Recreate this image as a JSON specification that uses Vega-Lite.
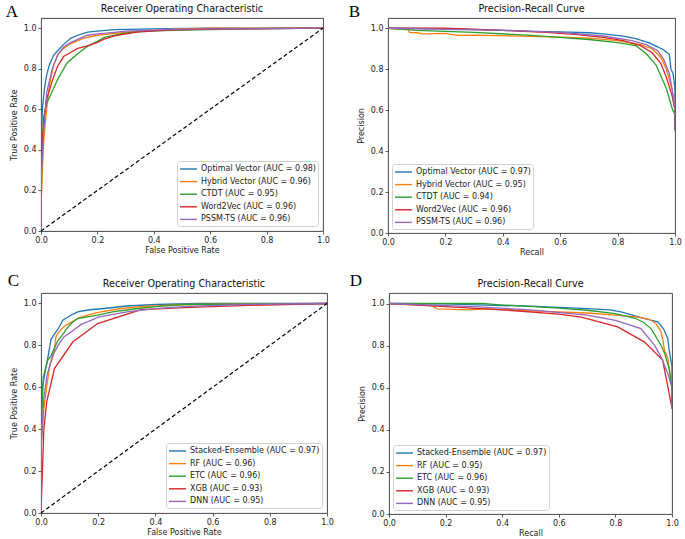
{
  "$schema": "https://vega.github.io/schema/vega-lite/v6.json",
  "padding": {"left": 5, "top": 2, "right": 2, "bottom": 2},
  "background": "white",
  "spacing": 14,
  "config": {
    "font": "DejaVu Sans",
    "view": {"stroke": "#333333", "strokeWidth": 0.9},
    "axis": {"grid": false, "domain": false, "tickColor": "#333333", "tickSize": 3, "tickWidth": 0.8, "labelPadding": 2, "labelFontSize": 8, "labelColor": "#222222", "labelFont": "DejaVu Sans", "titleFont": "DejaVu Sans", "titleFontSize": 8, "titleFontWeight": "normal", "titleColor": "#222222", "labelFlush": false, "format": ".1f"},
    "axisX": {"titlePadding": 2},
    "axisY": {"titlePadding": 5},
    "title": {"font": "DejaVu Sans", "fontSize": 9.6, "fontWeight": "normal", "color": "#111111", "offset": 4},
    "legend": {"padding": 2, "strokeColor": "#d0d0d0", "cornerRadius": 3, "fillColor": "rgba(255,255,255,0.8)", "symbolType": "M-1,0H2.4", "symbolSize": 100, "symbolStrokeWidth": 1.4, "labelFontSize": 8, "labelFont": "DejaVu Sans", "labelColor": "#222222", "rowPadding": 2.6, "labelOffset": 10, "labelLimit": 400, "offset": 5}
  },
  "datasets": {
    "diag": [{"x": 0, "y": 0}, {"x": 1, "y": 1}],
    "curves": [
      {"p":"A","m":"Optimal Vector (AUC = 0.98)","x":0,"y":0},
      {"p":"A","m":"Optimal Vector (AUC = 0.98)","x":0,"y":0.45},
      {"p":"A","m":"Optimal Vector (AUC = 0.98)","x":0.005,"y":0.6},
      {"p":"A","m":"Optimal Vector (AUC = 0.98)","x":0.012,"y":0.7},
      {"p":"A","m":"Optimal Vector (AUC = 0.98)","x":0.02,"y":0.77},
      {"p":"A","m":"Optimal Vector (AUC = 0.98)","x":0.03,"y":0.82},
      {"p":"A","m":"Optimal Vector (AUC = 0.98)","x":0.046,"y":0.87},
      {"p":"A","m":"Optimal Vector (AUC = 0.98)","x":0.06,"y":0.89},
      {"p":"A","m":"Optimal Vector (AUC = 0.98)","x":0.08,"y":0.92},
      {"p":"A","m":"Optimal Vector (AUC = 0.98)","x":0.105,"y":0.95},
      {"p":"A","m":"Optimal Vector (AUC = 0.98)","x":0.13,"y":0.965},
      {"p":"A","m":"Optimal Vector (AUC = 0.98)","x":0.165,"y":0.98},
      {"p":"A","m":"Optimal Vector (AUC = 0.98)","x":0.2,"y":0.985},
      {"p":"A","m":"Optimal Vector (AUC = 0.98)","x":0.26,"y":0.993},
      {"p":"A","m":"Optimal Vector (AUC = 0.98)","x":0.35,"y":0.995},
      {"p":"A","m":"Optimal Vector (AUC = 0.98)","x":0.45,"y":0.997},
      {"p":"A","m":"Optimal Vector (AUC = 0.98)","x":0.6,"y":1},
      {"p":"A","m":"Optimal Vector (AUC = 0.98)","x":1,"y":1},
      {"p":"A","m":"Hybrid Vector (AUC = 0.96)","x":0,"y":0},
      {"p":"A","m":"Hybrid Vector (AUC = 0.96)","x":0,"y":0.12},
      {"p":"A","m":"Hybrid Vector (AUC = 0.96)","x":0.005,"y":0.3},
      {"p":"A","m":"Hybrid Vector (AUC = 0.96)","x":0.01,"y":0.45},
      {"p":"A","m":"Hybrid Vector (AUC = 0.96)","x":0.02,"y":0.6},
      {"p":"A","m":"Hybrid Vector (AUC = 0.96)","x":0.03,"y":0.72},
      {"p":"A","m":"Hybrid Vector (AUC = 0.96)","x":0.045,"y":0.82},
      {"p":"A","m":"Hybrid Vector (AUC = 0.96)","x":0.06,"y":0.87},
      {"p":"A","m":"Hybrid Vector (AUC = 0.96)","x":0.08,"y":0.9},
      {"p":"A","m":"Hybrid Vector (AUC = 0.96)","x":0.1,"y":0.92},
      {"p":"A","m":"Hybrid Vector (AUC = 0.96)","x":0.15,"y":0.95},
      {"p":"A","m":"Hybrid Vector (AUC = 0.96)","x":0.2,"y":0.965},
      {"p":"A","m":"Hybrid Vector (AUC = 0.96)","x":0.3,"y":0.98},
      {"p":"A","m":"Hybrid Vector (AUC = 0.96)","x":0.4,"y":0.99},
      {"p":"A","m":"Hybrid Vector (AUC = 0.96)","x":0.52,"y":0.997},
      {"p":"A","m":"Hybrid Vector (AUC = 0.96)","x":0.6,"y":1},
      {"p":"A","m":"Hybrid Vector (AUC = 0.96)","x":1,"y":1},
      {"p":"A","m":"CTDT (AUC = 0.95)","x":0,"y":0},
      {"p":"A","m":"CTDT (AUC = 0.95)","x":0.002,"y":0.3},
      {"p":"A","m":"CTDT (AUC = 0.95)","x":0.008,"y":0.55},
      {"p":"A","m":"CTDT (AUC = 0.95)","x":0.02,"y":0.63},
      {"p":"A","m":"CTDT (AUC = 0.95)","x":0.034,"y":0.67},
      {"p":"A","m":"CTDT (AUC = 0.95)","x":0.06,"y":0.75},
      {"p":"A","m":"CTDT (AUC = 0.95)","x":0.093,"y":0.83},
      {"p":"A","m":"CTDT (AUC = 0.95)","x":0.14,"y":0.885},
      {"p":"A","m":"CTDT (AUC = 0.95)","x":0.165,"y":0.91},
      {"p":"A","m":"CTDT (AUC = 0.95)","x":0.2,"y":0.935},
      {"p":"A","m":"CTDT (AUC = 0.95)","x":0.224,"y":0.954},
      {"p":"A","m":"CTDT (AUC = 0.95)","x":0.295,"y":0.975},
      {"p":"A","m":"CTDT (AUC = 0.95)","x":0.37,"y":0.985},
      {"p":"A","m":"CTDT (AUC = 0.95)","x":0.5,"y":0.99},
      {"p":"A","m":"CTDT (AUC = 0.95)","x":0.7,"y":0.995},
      {"p":"A","m":"CTDT (AUC = 0.95)","x":1,"y":1},
      {"p":"A","m":"Word2Vec (AUC = 0.96)","x":0,"y":0},
      {"p":"A","m":"Word2Vec (AUC = 0.96)","x":0,"y":0.35},
      {"p":"A","m":"Word2Vec (AUC = 0.96)","x":0.01,"y":0.55},
      {"p":"A","m":"Word2Vec (AUC = 0.96)","x":0.02,"y":0.65},
      {"p":"A","m":"Word2Vec (AUC = 0.96)","x":0.04,"y":0.74},
      {"p":"A","m":"Word2Vec (AUC = 0.96)","x":0.058,"y":0.81},
      {"p":"A","m":"Word2Vec (AUC = 0.96)","x":0.08,"y":0.86},
      {"p":"A","m":"Word2Vec (AUC = 0.96)","x":0.105,"y":0.88},
      {"p":"A","m":"Word2Vec (AUC = 0.96)","x":0.13,"y":0.9},
      {"p":"A","m":"Word2Vec (AUC = 0.96)","x":0.165,"y":0.913},
      {"p":"A","m":"Word2Vec (AUC = 0.96)","x":0.2,"y":0.93},
      {"p":"A","m":"Word2Vec (AUC = 0.96)","x":0.224,"y":0.946},
      {"p":"A","m":"Word2Vec (AUC = 0.96)","x":0.27,"y":0.965},
      {"p":"A","m":"Word2Vec (AUC = 0.96)","x":0.34,"y":0.98},
      {"p":"A","m":"Word2Vec (AUC = 0.96)","x":0.45,"y":0.99},
      {"p":"A","m":"Word2Vec (AUC = 0.96)","x":0.6,"y":0.995},
      {"p":"A","m":"Word2Vec (AUC = 0.96)","x":1,"y":1},
      {"p":"A","m":"PSSM-TS (AUC = 0.96)","x":0,"y":0},
      {"p":"A","m":"PSSM-TS (AUC = 0.96)","x":0,"y":0.25},
      {"p":"A","m":"PSSM-TS (AUC = 0.96)","x":0.01,"y":0.5},
      {"p":"A","m":"PSSM-TS (AUC = 0.96)","x":0.02,"y":0.68},
      {"p":"A","m":"PSSM-TS (AUC = 0.96)","x":0.04,"y":0.8},
      {"p":"A","m":"PSSM-TS (AUC = 0.96)","x":0.06,"y":0.87},
      {"p":"A","m":"PSSM-TS (AUC = 0.96)","x":0.082,"y":0.91},
      {"p":"A","m":"PSSM-TS (AUC = 0.96)","x":0.1,"y":0.925},
      {"p":"A","m":"PSSM-TS (AUC = 0.96)","x":0.13,"y":0.945},
      {"p":"A","m":"PSSM-TS (AUC = 0.96)","x":0.165,"y":0.965},
      {"p":"A","m":"PSSM-TS (AUC = 0.96)","x":0.2,"y":0.972},
      {"p":"A","m":"PSSM-TS (AUC = 0.96)","x":0.25,"y":0.978},
      {"p":"A","m":"PSSM-TS (AUC = 0.96)","x":0.3,"y":0.985},
      {"p":"A","m":"PSSM-TS (AUC = 0.96)","x":0.4,"y":0.99},
      {"p":"A","m":"PSSM-TS (AUC = 0.96)","x":0.5,"y":0.995},
      {"p":"A","m":"PSSM-TS (AUC = 0.96)","x":1,"y":1},

      {"p":"B","m":"Optimal Vector (AUC = 0.97)","x":0,"y":1},
      {"p":"B","m":"Optimal Vector (AUC = 0.97)","x":0.2,"y":0.998},
      {"p":"B","m":"Optimal Vector (AUC = 0.97)","x":0.4,"y":0.99},
      {"p":"B","m":"Optimal Vector (AUC = 0.97)","x":0.5,"y":0.985},
      {"p":"B","m":"Optimal Vector (AUC = 0.97)","x":0.6,"y":0.982},
      {"p":"B","m":"Optimal Vector (AUC = 0.97)","x":0.7,"y":0.978},
      {"p":"B","m":"Optimal Vector (AUC = 0.97)","x":0.75,"y":0.972},
      {"p":"B","m":"Optimal Vector (AUC = 0.97)","x":0.818,"y":0.962},
      {"p":"B","m":"Optimal Vector (AUC = 0.97)","x":0.86,"y":0.95},
      {"p":"B","m":"Optimal Vector (AUC = 0.97)","x":0.888,"y":0.938},
      {"p":"B","m":"Optimal Vector (AUC = 0.97)","x":0.91,"y":0.928},
      {"p":"B","m":"Optimal Vector (AUC = 0.97)","x":0.934,"y":0.913},
      {"p":"B","m":"Optimal Vector (AUC = 0.97)","x":0.96,"y":0.895},
      {"p":"B","m":"Optimal Vector (AUC = 0.97)","x":0.98,"y":0.873},
      {"p":"B","m":"Optimal Vector (AUC = 0.97)","x":0.986,"y":0.8},
      {"p":"B","m":"Optimal Vector (AUC = 0.97)","x":0.993,"y":0.78},
      {"p":"B","m":"Optimal Vector (AUC = 0.97)","x":0.998,"y":0.726},
      {"p":"B","m":"Optimal Vector (AUC = 0.97)","x":1,"y":0.7},
      {"p":"B","m":"Optimal Vector (AUC = 0.97)","x":1,"y":0.5},
      {"p":"B","m":"Hybrid Vector (AUC = 0.95)","x":0,"y":1},
      {"p":"B","m":"Hybrid Vector (AUC = 0.95)","x":0.07,"y":0.995},
      {"p":"B","m":"Hybrid Vector (AUC = 0.95)","x":0.075,"y":0.98},
      {"p":"B","m":"Hybrid Vector (AUC = 0.95)","x":0.1,"y":0.978},
      {"p":"B","m":"Hybrid Vector (AUC = 0.95)","x":0.12,"y":0.972},
      {"p":"B","m":"Hybrid Vector (AUC = 0.95)","x":0.2,"y":0.975},
      {"p":"B","m":"Hybrid Vector (AUC = 0.95)","x":0.24,"y":0.965},
      {"p":"B","m":"Hybrid Vector (AUC = 0.95)","x":0.3,"y":0.966},
      {"p":"B","m":"Hybrid Vector (AUC = 0.95)","x":0.5,"y":0.96},
      {"p":"B","m":"Hybrid Vector (AUC = 0.95)","x":0.6,"y":0.957},
      {"p":"B","m":"Hybrid Vector (AUC = 0.95)","x":0.7,"y":0.952},
      {"p":"B","m":"Hybrid Vector (AUC = 0.95)","x":0.8,"y":0.94},
      {"p":"B","m":"Hybrid Vector (AUC = 0.95)","x":0.88,"y":0.92},
      {"p":"B","m":"Hybrid Vector (AUC = 0.95)","x":0.92,"y":0.9},
      {"p":"B","m":"Hybrid Vector (AUC = 0.95)","x":0.95,"y":0.86},
      {"p":"B","m":"Hybrid Vector (AUC = 0.95)","x":0.97,"y":0.8},
      {"p":"B","m":"Hybrid Vector (AUC = 0.95)","x":0.99,"y":0.7},
      {"p":"B","m":"Hybrid Vector (AUC = 0.95)","x":1,"y":0.6},
      {"p":"B","m":"Hybrid Vector (AUC = 0.95)","x":1,"y":0.5},
      {"p":"B","m":"CTDT (AUC = 0.94)","x":0,"y":1},
      {"p":"B","m":"CTDT (AUC = 0.94)","x":0.1,"y":0.99},
      {"p":"B","m":"CTDT (AUC = 0.94)","x":0.3,"y":0.98},
      {"p":"B","m":"CTDT (AUC = 0.94)","x":0.5,"y":0.965},
      {"p":"B","m":"CTDT (AUC = 0.94)","x":0.586,"y":0.957},
      {"p":"B","m":"CTDT (AUC = 0.94)","x":0.7,"y":0.945},
      {"p":"B","m":"CTDT (AUC = 0.94)","x":0.8,"y":0.93},
      {"p":"B","m":"CTDT (AUC = 0.94)","x":0.864,"y":0.915},
      {"p":"B","m":"CTDT (AUC = 0.94)","x":0.9,"y":0.875},
      {"p":"B","m":"CTDT (AUC = 0.94)","x":0.934,"y":0.82},
      {"p":"B","m":"CTDT (AUC = 0.94)","x":0.969,"y":0.71},
      {"p":"B","m":"CTDT (AUC = 0.94)","x":0.992,"y":0.6},
      {"p":"B","m":"CTDT (AUC = 0.94)","x":1,"y":0.58},
      {"p":"B","m":"CTDT (AUC = 0.94)","x":1,"y":0.5},
      {"p":"B","m":"Word2Vec (AUC = 0.96)","x":0,"y":1},
      {"p":"B","m":"Word2Vec (AUC = 0.96)","x":0.2,"y":1},
      {"p":"B","m":"Word2Vec (AUC = 0.96)","x":0.27,"y":0.997},
      {"p":"B","m":"Word2Vec (AUC = 0.96)","x":0.4,"y":0.99},
      {"p":"B","m":"Word2Vec (AUC = 0.96)","x":0.55,"y":0.98},
      {"p":"B","m":"Word2Vec (AUC = 0.96)","x":0.65,"y":0.97},
      {"p":"B","m":"Word2Vec (AUC = 0.96)","x":0.75,"y":0.955},
      {"p":"B","m":"Word2Vec (AUC = 0.96)","x":0.82,"y":0.94},
      {"p":"B","m":"Word2Vec (AUC = 0.96)","x":0.88,"y":0.915},
      {"p":"B","m":"Word2Vec (AUC = 0.96)","x":0.92,"y":0.88},
      {"p":"B","m":"Word2Vec (AUC = 0.96)","x":0.95,"y":0.83},
      {"p":"B","m":"Word2Vec (AUC = 0.96)","x":0.97,"y":0.76},
      {"p":"B","m":"Word2Vec (AUC = 0.96)","x":0.99,"y":0.67},
      {"p":"B","m":"Word2Vec (AUC = 0.96)","x":1,"y":0.6},
      {"p":"B","m":"Word2Vec (AUC = 0.96)","x":1,"y":0.5},
      {"p":"B","m":"PSSM-TS (AUC = 0.96)","x":0,"y":1},
      {"p":"B","m":"PSSM-TS (AUC = 0.96)","x":0.4,"y":0.99},
      {"p":"B","m":"PSSM-TS (AUC = 0.96)","x":0.6,"y":0.98},
      {"p":"B","m":"PSSM-TS (AUC = 0.96)","x":0.75,"y":0.962},
      {"p":"B","m":"PSSM-TS (AUC = 0.96)","x":0.85,"y":0.94},
      {"p":"B","m":"PSSM-TS (AUC = 0.96)","x":0.9,"y":0.92},
      {"p":"B","m":"PSSM-TS (AUC = 0.96)","x":0.94,"y":0.89},
      {"p":"B","m":"PSSM-TS (AUC = 0.96)","x":0.96,"y":0.85},
      {"p":"B","m":"PSSM-TS (AUC = 0.96)","x":0.98,"y":0.78},
      {"p":"B","m":"PSSM-TS (AUC = 0.96)","x":0.99,"y":0.7},
      {"p":"B","m":"PSSM-TS (AUC = 0.96)","x":1,"y":0.6},
      {"p":"B","m":"PSSM-TS (AUC = 0.96)","x":1,"y":0.5},

      {"p":"C","m":"Stacked-Ensemble (AUC = 0.97)","x":0,"y":0},
      {"p":"C","m":"Stacked-Ensemble (AUC = 0.97)","x":0,"y":0.45},
      {"p":"C","m":"Stacked-Ensemble (AUC = 0.97)","x":0.005,"y":0.6},
      {"p":"C","m":"Stacked-Ensemble (AUC = 0.97)","x":0.015,"y":0.68},
      {"p":"C","m":"Stacked-Ensemble (AUC = 0.97)","x":0.025,"y":0.75},
      {"p":"C","m":"Stacked-Ensemble (AUC = 0.97)","x":0.035,"y":0.83},
      {"p":"C","m":"Stacked-Ensemble (AUC = 0.97)","x":0.05,"y":0.86},
      {"p":"C","m":"Stacked-Ensemble (AUC = 0.97)","x":0.065,"y":0.89},
      {"p":"C","m":"Stacked-Ensemble (AUC = 0.97)","x":0.076,"y":0.92},
      {"p":"C","m":"Stacked-Ensemble (AUC = 0.97)","x":0.1,"y":0.94},
      {"p":"C","m":"Stacked-Ensemble (AUC = 0.97)","x":0.128,"y":0.96},
      {"p":"C","m":"Stacked-Ensemble (AUC = 0.97)","x":0.17,"y":0.97},
      {"p":"C","m":"Stacked-Ensemble (AUC = 0.97)","x":0.22,"y":0.976},
      {"p":"C","m":"Stacked-Ensemble (AUC = 0.97)","x":0.3,"y":0.988},
      {"p":"C","m":"Stacked-Ensemble (AUC = 0.97)","x":0.4,"y":0.995},
      {"p":"C","m":"Stacked-Ensemble (AUC = 0.97)","x":0.55,"y":1},
      {"p":"C","m":"Stacked-Ensemble (AUC = 0.97)","x":1,"y":1},
      {"p":"C","m":"RF (AUC = 0.96)","x":0,"y":0},
      {"p":"C","m":"RF (AUC = 0.96)","x":0,"y":0.3},
      {"p":"C","m":"RF (AUC = 0.96)","x":0.01,"y":0.5},
      {"p":"C","m":"RF (AUC = 0.96)","x":0.02,"y":0.6},
      {"p":"C","m":"RF (AUC = 0.96)","x":0.03,"y":0.7},
      {"p":"C","m":"RF (AUC = 0.96)","x":0.045,"y":0.76},
      {"p":"C","m":"RF (AUC = 0.96)","x":0.052,"y":0.84},
      {"p":"C","m":"RF (AUC = 0.96)","x":0.06,"y":0.86},
      {"p":"C","m":"RF (AUC = 0.96)","x":0.08,"y":0.89},
      {"p":"C","m":"RF (AUC = 0.96)","x":0.1,"y":0.905},
      {"p":"C","m":"RF (AUC = 0.96)","x":0.13,"y":0.93},
      {"p":"C","m":"RF (AUC = 0.96)","x":0.163,"y":0.944},
      {"p":"C","m":"RF (AUC = 0.96)","x":0.2,"y":0.958},
      {"p":"C","m":"RF (AUC = 0.96)","x":0.28,"y":0.976},
      {"p":"C","m":"RF (AUC = 0.96)","x":0.35,"y":0.985},
      {"p":"C","m":"RF (AUC = 0.96)","x":0.5,"y":0.995},
      {"p":"C","m":"RF (AUC = 0.96)","x":1,"y":1},
      {"p":"C","m":"ETC (AUC = 0.96)","x":0,"y":0},
      {"p":"C","m":"ETC (AUC = 0.96)","x":0,"y":0.35},
      {"p":"C","m":"ETC (AUC = 0.96)","x":0.008,"y":0.65},
      {"p":"C","m":"ETC (AUC = 0.96)","x":0.0235,"y":0.729},
      {"p":"C","m":"ETC (AUC = 0.96)","x":0.035,"y":0.75},
      {"p":"C","m":"ETC (AUC = 0.96)","x":0.058,"y":0.82},
      {"p":"C","m":"ETC (AUC = 0.96)","x":0.075,"y":0.85},
      {"p":"C","m":"ETC (AUC = 0.96)","x":0.09,"y":0.88},
      {"p":"C","m":"ETC (AUC = 0.96)","x":0.11,"y":0.91},
      {"p":"C","m":"ETC (AUC = 0.96)","x":0.128,"y":0.928},
      {"p":"C","m":"ETC (AUC = 0.96)","x":0.198,"y":0.944},
      {"p":"C","m":"ETC (AUC = 0.96)","x":0.25,"y":0.96},
      {"p":"C","m":"ETC (AUC = 0.96)","x":0.338,"y":0.976},
      {"p":"C","m":"ETC (AUC = 0.96)","x":0.4,"y":0.985},
      {"p":"C","m":"ETC (AUC = 0.96)","x":0.5,"y":0.995},
      {"p":"C","m":"ETC (AUC = 0.96)","x":1,"y":1},
      {"p":"C","m":"XGB (AUC = 0.93)","x":0,"y":0},
      {"p":"C","m":"XGB (AUC = 0.93)","x":0.01,"y":0.4},
      {"p":"C","m":"XGB (AUC = 0.93)","x":0.02,"y":0.53},
      {"p":"C","m":"XGB (AUC = 0.93)","x":0.047,"y":0.689},
      {"p":"C","m":"XGB (AUC = 0.93)","x":0.111,"y":0.816},
      {"p":"C","m":"XGB (AUC = 0.93)","x":0.198,"y":0.904},
      {"p":"C","m":"XGB (AUC = 0.93)","x":0.35,"y":0.971},
      {"p":"C","m":"XGB (AUC = 0.93)","x":0.5,"y":0.98},
      {"p":"C","m":"XGB (AUC = 0.93)","x":0.7,"y":0.99},
      {"p":"C","m":"XGB (AUC = 0.93)","x":1,"y":1},
      {"p":"C","m":"DNN (AUC = 0.95)","x":0,"y":0},
      {"p":"C","m":"DNN (AUC = 0.95)","x":0,"y":0.3},
      {"p":"C","m":"DNN (AUC = 0.95)","x":0.01,"y":0.55},
      {"p":"C","m":"DNN (AUC = 0.95)","x":0.02,"y":0.65},
      {"p":"C","m":"DNN (AUC = 0.95)","x":0.04,"y":0.75},
      {"p":"C","m":"DNN (AUC = 0.95)","x":0.06,"y":0.8},
      {"p":"C","m":"DNN (AUC = 0.95)","x":0.08,"y":0.84},
      {"p":"C","m":"DNN (AUC = 0.95)","x":0.105,"y":0.864},
      {"p":"C","m":"DNN (AUC = 0.95)","x":0.14,"y":0.9},
      {"p":"C","m":"DNN (AUC = 0.95)","x":0.163,"y":0.912},
      {"p":"C","m":"DNN (AUC = 0.95)","x":0.2,"y":0.935},
      {"p":"C","m":"DNN (AUC = 0.95)","x":0.3,"y":0.96},
      {"p":"C","m":"DNN (AUC = 0.95)","x":0.4,"y":0.975},
      {"p":"C","m":"DNN (AUC = 0.95)","x":0.5,"y":0.985},
      {"p":"C","m":"DNN (AUC = 0.95)","x":0.7,"y":0.995},
      {"p":"C","m":"DNN (AUC = 0.95)","x":1,"y":1},

      {"p":"D","m":"Stacked-Ensemble (AUC = 0.97)","x":0,"y":1},
      {"p":"D","m":"Stacked-Ensemble (AUC = 0.97)","x":0.2,"y":0.998},
      {"p":"D","m":"Stacked-Ensemble (AUC = 0.97)","x":0.4,"y":0.99},
      {"p":"D","m":"Stacked-Ensemble (AUC = 0.97)","x":0.5,"y":0.988},
      {"p":"D","m":"Stacked-Ensemble (AUC = 0.97)","x":0.6,"y":0.982},
      {"p":"D","m":"Stacked-Ensemble (AUC = 0.97)","x":0.7,"y":0.976},
      {"p":"D","m":"Stacked-Ensemble (AUC = 0.97)","x":0.78,"y":0.97},
      {"p":"D","m":"Stacked-Ensemble (AUC = 0.97)","x":0.82,"y":0.96},
      {"p":"D","m":"Stacked-Ensemble (AUC = 0.97)","x":0.86,"y":0.945},
      {"p":"D","m":"Stacked-Ensemble (AUC = 0.97)","x":0.9,"y":0.93},
      {"p":"D","m":"Stacked-Ensemble (AUC = 0.97)","x":0.95,"y":0.913},
      {"p":"D","m":"Stacked-Ensemble (AUC = 0.97)","x":0.97,"y":0.88},
      {"p":"D","m":"Stacked-Ensemble (AUC = 0.97)","x":0.985,"y":0.834},
      {"p":"D","m":"Stacked-Ensemble (AUC = 0.97)","x":0.99,"y":0.78},
      {"p":"D","m":"Stacked-Ensemble (AUC = 0.97)","x":0.997,"y":0.723},
      {"p":"D","m":"Stacked-Ensemble (AUC = 0.97)","x":1,"y":0.7},
      {"p":"D","m":"Stacked-Ensemble (AUC = 0.97)","x":1,"y":0.5},
      {"p":"D","m":"RF (AUC = 0.95)","x":0,"y":1},
      {"p":"D","m":"RF (AUC = 0.95)","x":0.15,"y":0.99},
      {"p":"D","m":"RF (AUC = 0.95)","x":0.17,"y":0.975},
      {"p":"D","m":"RF (AUC = 0.95)","x":0.28,"y":0.97},
      {"p":"D","m":"RF (AUC = 0.95)","x":0.35,"y":0.975},
      {"p":"D","m":"RF (AUC = 0.95)","x":0.5,"y":0.965},
      {"p":"D","m":"RF (AUC = 0.95)","x":0.7,"y":0.955},
      {"p":"D","m":"RF (AUC = 0.95)","x":0.8,"y":0.945},
      {"p":"D","m":"RF (AUC = 0.95)","x":0.88,"y":0.935},
      {"p":"D","m":"RF (AUC = 0.95)","x":0.92,"y":0.925},
      {"p":"D","m":"RF (AUC = 0.95)","x":0.943,"y":0.905},
      {"p":"D","m":"RF (AUC = 0.95)","x":0.96,"y":0.87},
      {"p":"D","m":"RF (AUC = 0.95)","x":0.967,"y":0.834},
      {"p":"D","m":"RF (AUC = 0.95)","x":0.973,"y":0.78},
      {"p":"D","m":"RF (AUC = 0.95)","x":0.985,"y":0.74},
      {"p":"D","m":"RF (AUC = 0.95)","x":1,"y":0.6},
      {"p":"D","m":"RF (AUC = 0.95)","x":1,"y":0.5},
      {"p":"D","m":"ETC (AUC = 0.96)","x":0,"y":1},
      {"p":"D","m":"ETC (AUC = 0.96)","x":0.33,"y":1},
      {"p":"D","m":"ETC (AUC = 0.96)","x":0.38,"y":0.995},
      {"p":"D","m":"ETC (AUC = 0.96)","x":0.45,"y":0.99},
      {"p":"D","m":"ETC (AUC = 0.96)","x":0.6,"y":0.978},
      {"p":"D","m":"ETC (AUC = 0.96)","x":0.7,"y":0.968},
      {"p":"D","m":"ETC (AUC = 0.96)","x":0.8,"y":0.952},
      {"p":"D","m":"ETC (AUC = 0.96)","x":0.87,"y":0.93},
      {"p":"D","m":"ETC (AUC = 0.96)","x":0.9,"y":0.91},
      {"p":"D","m":"ETC (AUC = 0.96)","x":0.926,"y":0.881},
      {"p":"D","m":"ETC (AUC = 0.96)","x":0.961,"y":0.802},
      {"p":"D","m":"ETC (AUC = 0.96)","x":0.975,"y":0.76},
      {"p":"D","m":"ETC (AUC = 0.96)","x":0.99,"y":0.69},
      {"p":"D","m":"ETC (AUC = 0.96)","x":1,"y":0.6},
      {"p":"D","m":"ETC (AUC = 0.96)","x":1,"y":0.5},
      {"p":"D","m":"XGB (AUC = 0.93)","x":0,"y":1},
      {"p":"D","m":"XGB (AUC = 0.93)","x":0.2,"y":0.985},
      {"p":"D","m":"XGB (AUC = 0.93)","x":0.4,"y":0.97},
      {"p":"D","m":"XGB (AUC = 0.93)","x":0.6,"y":0.95},
      {"p":"D","m":"XGB (AUC = 0.93)","x":0.68,"y":0.935},
      {"p":"D","m":"XGB (AUC = 0.93)","x":0.808,"y":0.889},
      {"p":"D","m":"XGB (AUC = 0.93)","x":0.902,"y":0.818},
      {"p":"D","m":"XGB (AUC = 0.93)","x":0.967,"y":0.731},
      {"p":"D","m":"XGB (AUC = 0.93)","x":1,"y":0.503},
      {"p":"D","m":"DNN (AUC = 0.95)","x":0,"y":1},
      {"p":"D","m":"DNN (AUC = 0.95)","x":0.3,"y":0.985},
      {"p":"D","m":"DNN (AUC = 0.95)","x":0.5,"y":0.97},
      {"p":"D","m":"DNN (AUC = 0.95)","x":0.7,"y":0.945},
      {"p":"D","m":"DNN (AUC = 0.95)","x":0.8,"y":0.92},
      {"p":"D","m":"DNN (AUC = 0.95)","x":0.89,"y":0.881},
      {"p":"D","m":"DNN (AUC = 0.95)","x":0.938,"y":0.802},
      {"p":"D","m":"DNN (AUC = 0.95)","x":0.96,"y":0.75},
      {"p":"D","m":"DNN (AUC = 0.95)","x":0.985,"y":0.669},
      {"p":"D","m":"DNN (AUC = 0.95)","x":1,"y":0.6},
      {"p":"D","m":"DNN (AUC = 0.95)","x":1,"y":0.5}
    ]
  },
  "resolve": {"scale": {"color": "independent"}, "legend": {"color": "independent"}},
  "vconcat": [
    {
      "hconcat": [
        {
          "title": {"text": "A", "anchor": "start", "frame": "bounds", "font": "Liberation Serif", "fontSize": 17, "fontWeight": "normal", "color": "#000000", "offset": 0, "dy": 17, "dx": -4},
          "resolve": {"scale": {"color": "independent"}, "legend": {"color": "independent"}},
          "hconcat": [
            {
              "title": "Receiver Operating Characteristic",
              "width": 282, "height": 213,
              "layer": [
                {
                  "data": {"name": "curves"},
                  "transform": [{"filter": "datum.p === 'A'"}],
                  "mark": {"type": "line", "strokeWidth": 1.3, "clip": true},
                  "encoding": {
                    "x": {"field": "x", "type": "quantitative", "title": "False Positive Rate", "scale": {"domain": [0, 1], "nice": false}, "axis": {"values": [0, 0.2, 0.4, 0.6, 0.8, 1]}},
                    "y": {"field": "y", "type": "quantitative", "title": "True Positive Rate", "scale": {"domain": [0, 1.05], "nice": false}, "axis": {"values": [0, 0.2, 0.4, 0.6, 0.8, 1]}},
                    "color": {"field": "m", "type": "nominal", "scale": {"domain": ["Optimal Vector (AUC = 0.98)", "Hybrid Vector (AUC = 0.96)", "CTDT (AUC = 0.95)", "Word2Vec (AUC = 0.96)", "PSSM-TS (AUC = 0.96)"], "range": ["#1f77b4", "#ff7f0e", "#2ca02c", "#d62728", "#9467bd"]}, "legend": {"orient": "bottom-right", "title": null}},
                    "order": [{"field": "x", "sort": "ascending"}, {"field": "y", "sort": "ascending"}]
                  }
                },
                {
                  "data": {"name": "diag"},
                  "mark": {"type": "line", "color": "#000000", "strokeDash": [4, 2.5], "strokeWidth": 1.2},
                  "encoding": {"x": {"field": "x", "type": "quantitative"}, "y": {"field": "y", "type": "quantitative"}}
                }
              ]
            }
          ]
        },
        {
          "title": {"text": "B", "anchor": "start", "frame": "bounds", "font": "Liberation Serif", "fontSize": 17, "fontWeight": "normal", "color": "#000000", "offset": 0, "dy": 17, "dx": -8},
          "resolve": {"scale": {"color": "independent"}, "legend": {"color": "independent"}},
          "hconcat": [
            {
              "title": "Precision-Recall Curve",
              "width": 287, "height": 215,
              "layer": [
                {
                  "data": {"name": "curves"},
                  "transform": [{"filter": "datum.p === 'B'"}],
                  "mark": {"type": "line", "strokeWidth": 1.3, "clip": true},
                  "encoding": {
                    "x": {"field": "x", "type": "quantitative", "title": "Recall", "scale": {"domain": [0, 1], "nice": false}, "axis": {"values": [0, 0.2, 0.4, 0.6, 0.8, 1]}},
                    "y": {"field": "y", "type": "quantitative", "title": "Precision", "scale": {"domain": [0, 1.05], "nice": false}, "axis": {"values": [0, 0.2, 0.4, 0.6, 0.8, 1]}},
                    "color": {"field": "m", "type": "nominal", "scale": {"domain": ["Optimal Vector (AUC = 0.97)", "Hybrid Vector (AUC = 0.95)", "CTDT (AUC = 0.94)", "Word2Vec (AUC = 0.96)", "PSSM-TS (AUC = 0.96)"], "range": ["#1f77b4", "#ff7f0e", "#2ca02c", "#d62728", "#9467bd"]}, "legend": {"orient": "bottom-left", "title": null, "offset": 4}},
                    "order": [{"field": "x", "sort": "ascending"}, {"field": "y", "sort": "descending"}]
                  }
                }
              ]
            }
          ]
        }
      ],
      "spacing": 18,
      "resolve": {"scale": {"color": "independent"}, "legend": {"color": "independent"}}
    },
    {
      "hconcat": [
        {
          "title": {"text": "C", "anchor": "start", "frame": "bounds", "font": "Liberation Serif", "fontSize": 17, "fontWeight": "normal", "color": "#000000", "offset": 0, "dy": 11, "dx": -2},
          "resolve": {"scale": {"color": "independent"}, "legend": {"color": "independent"}},
          "hconcat": [
            {
              "title": "Receiver Operating Characteristic",
              "width": 286, "height": 220,
              "layer": [
                {
                  "data": {"name": "curves"},
                  "transform": [{"filter": "datum.p === 'C'"}],
                  "mark": {"type": "line", "strokeWidth": 1.3, "clip": true},
                  "encoding": {
                    "x": {"field": "x", "type": "quantitative", "title": "False Positive Rate", "scale": {"domain": [0, 1], "nice": false}, "axis": {"values": [0, 0.2, 0.4, 0.6, 0.8, 1]}},
                    "y": {"field": "y", "type": "quantitative", "title": "True Positive Rate", "scale": {"domain": [0, 1.05], "nice": false}, "axis": {"values": [0, 0.2, 0.4, 0.6, 0.8, 1]}},
                    "color": {"field": "m", "type": "nominal", "scale": {"domain": ["Stacked-Ensemble (AUC = 0.97)", "RF (AUC = 0.96)", "ETC (AUC = 0.96)", "XGB (AUC = 0.93)", "DNN (AUC = 0.95)"], "range": ["#1f77b4", "#ff7f0e", "#2ca02c", "#d62728", "#9467bd"]}, "legend": {"orient": "bottom-right", "title": null}},
                    "order": [{"field": "x", "sort": "ascending"}, {"field": "y", "sort": "ascending"}]
                  }
                },
                {
                  "data": {"name": "diag"},
                  "mark": {"type": "line", "color": "#000000", "strokeDash": [4, 2.5], "strokeWidth": 1.2},
                  "encoding": {"x": {"field": "x", "type": "quantitative"}, "y": {"field": "y", "type": "quantitative"}}
                }
              ]
            }
          ]
        },
        {
          "title": {"text": "D", "anchor": "start", "frame": "bounds", "font": "Liberation Serif", "fontSize": 17, "fontWeight": "normal", "color": "#000000", "offset": 0, "dy": 11, "dx": -8},
          "resolve": {"scale": {"color": "independent"}, "legend": {"color": "independent"}},
          "hconcat": [
            {
              "title": "Precision-Recall Curve",
              "width": 283, "height": 221,
              "layer": [
                {
                  "data": {"name": "curves"},
                  "transform": [{"filter": "datum.p === 'D'"}],
                  "mark": {"type": "line", "strokeWidth": 1.3, "clip": true},
                  "encoding": {
                    "x": {"field": "x", "type": "quantitative", "title": "Recall", "scale": {"domain": [0, 1], "nice": false}, "axis": {"values": [0, 0.2, 0.4, 0.6, 0.8, 1]}},
                    "y": {"field": "y", "type": "quantitative", "title": "Precision", "scale": {"domain": [0, 1.05], "nice": false}, "axis": {"values": [0, 0.2, 0.4, 0.6, 0.8, 1]}},
                    "color": {"field": "m", "type": "nominal", "scale": {"domain": ["Stacked-Ensemble (AUC = 0.97)", "RF (AUC = 0.95)", "ETC (AUC = 0.96)", "XGB (AUC = 0.93)", "DNN (AUC = 0.95)"], "range": ["#1f77b4", "#ff7f0e", "#2ca02c", "#d62728", "#9467bd"]}, "legend": {"orient": "bottom-left", "title": null, "offset": 4}},
                    "order": [{"field": "x", "sort": "ascending"}, {"field": "y", "sort": "descending"}]
                  }
                }
              ]
            }
          ]
        }
      ],
      "spacing": 15,
      "resolve": {"scale": {"color": "independent"}, "legend": {"color": "independent"}}
    }
  ]
}
